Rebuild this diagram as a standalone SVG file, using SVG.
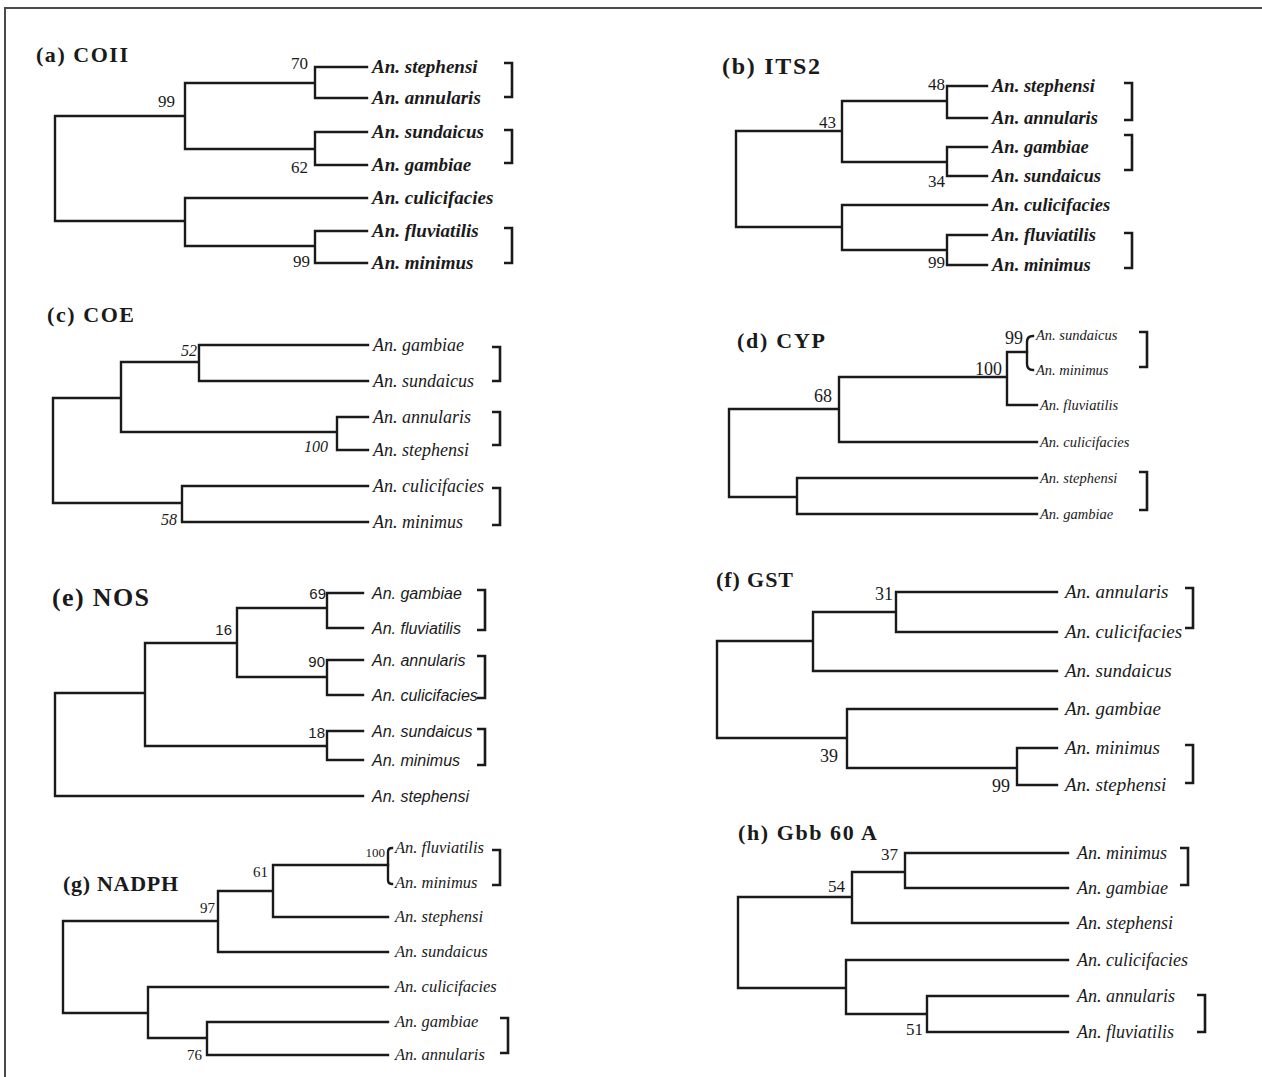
<svg xmlns="http://www.w3.org/2000/svg" width="1262" height="1077" viewBox="0 0 1262 1077">
<style>
  .frame { fill: none; stroke: #4a4a4a; stroke-width: 2; }
  .br { fill: none; stroke: #1a1a1a; stroke-width: 2.4; stroke-linecap: square; }
  .brk { fill: none; stroke: #1a1a1a; stroke-width: 2.6; }
  .title { font-family: "Liberation Serif", serif; font-weight: bold; fill: #1a1a1a; }
  .sp { font-family: "Liberation Serif", serif; fill: #1a1a1a; text-anchor: end; }
  .tx { font-family: "Liberation Serif", serif; font-style: italic; fill: #1a1a1a; }
  .a .tx, .b .tx { font-weight: bold; }
  .e .tx, .e .sp { font-family: "Liberation Sans", sans-serif; }
</style>

<!-- outer frame: top and left rules -->
<path class="frame" d="M5 1077 V8 H1262"/>

<!-- (a) COII -->
<g id="panel-a" class="a">
  <g id="a-title"><text class="title" x="36" y="62" font-size="22" textLength="92">(a) COII</text></g>
  <g id="a-edges">
    <path class="br" d="M185 116 H55 V221 H185 M315 83 H185 V149 H315 M367 67 H315 V98 H367 M367 132 H315 V165 H367 M367 198 H185 V246 H315 M367 231 H315 V263 H367"/>
    <path class="brk" d="M504 63 H512 V97 H504 M504 130 H512 V163 H504 M504 228 H512 V263 H504"/>
  </g>
  <g id="a-support" font-size="17">
    <text class="sp" x="308" y="69">70</text>
    <text class="sp" x="175" y="107">99</text>
    <text class="sp" x="308" y="173">62</text>
    <text class="sp" x="310" y="267">99</text>
  </g>
  <g id="a-stephensi"><text class="tx" x="372" y="73" font-size="19">An. stephensi</text></g>
  <g id="a-annularis"><text class="tx" x="372" y="104" font-size="19">An. annularis</text></g>
  <g id="a-sundaicus"><text class="tx" x="372" y="138" font-size="19">An. sundaicus</text></g>
  <g id="a-gambiae"><text class="tx" x="372" y="171" font-size="19">An. gambiae</text></g>
  <g id="a-culicifacies"><text class="tx" x="372" y="204" font-size="19">An. culicifacies</text></g>
  <g id="a-fluviatilis"><text class="tx" x="372" y="237" font-size="19">An. fluviatilis</text></g>
  <g id="a-minimus"><text class="tx" x="372" y="269" font-size="19">An. minimus</text></g>
</g>

<!-- (b) ITS2 -->
<g id="panel-b" class="b">
  <g id="b-title"><text class="title" x="722" y="74" font-size="24" textLength="98">(b) ITS2</text></g>
  <g id="b-edges">
    <path class="br" d="M842 131 H736 V227 H842 M947 101 H842 V162 H947 M987 86 H947 V118 H987 M987 147 H947 V176 H987 M987 205 H842 V250 H947 M987 235 H947 V265 H987"/>
    <path class="brk" d="M1124 83 H1132 V120 H1124 M1124 135 H1132 V170 H1124 M1124 233 H1132 V268 H1124"/>
  </g>
  <g id="b-support" font-size="17">
    <text class="sp" x="945" y="90">48</text>
    <text class="sp" x="836" y="128">43</text>
    <text class="sp" x="945" y="187">34</text>
    <text class="sp" x="945" y="268">99</text>
  </g>
  <g id="b-stephensi"><text class="tx" x="992" y="92" font-size="18.5">An. stephensi</text></g>
  <g id="b-annularis"><text class="tx" x="992" y="124" font-size="18.5">An. annularis</text></g>
  <g id="b-gambiae"><text class="tx" x="992" y="153" font-size="18.5">An. gambiae</text></g>
  <g id="b-sundaicus"><text class="tx" x="992" y="182" font-size="18.5">An. sundaicus</text></g>
  <g id="b-culicifacies"><text class="tx" x="992" y="211" font-size="18.5">An. culicifacies</text></g>
  <g id="b-fluviatilis"><text class="tx" x="992" y="241" font-size="18.5">An. fluviatilis</text></g>
  <g id="b-minimus"><text class="tx" x="992" y="271" font-size="18.5">An. minimus</text></g>
</g>

<!-- (c) COE -->
<g id="panel-c" class="c">
  <g id="c-title"><text class="title" x="47" y="322" font-size="22" textLength="87">(c) COE</text></g>
  <g id="c-edges">
    <path class="br" d="M121 398 H53 V503 H182 M199 362 H121 V432 H337 M368 345 H199 V381 H368 M368 417 H337 V450 H368 M368 486 H182 V522 H368"/>
    <path class="brk" d="M492 347 H500 V381 H492 M492 412 H500 V445 H492 M492 488 H500 V525 H492"/>
  </g>
  <g id="c-support" font-size="16" font-style="italic">
    <text class="sp" x="197" y="356">52</text>
    <text class="sp" x="328" y="452">100</text>
    <text class="sp" x="177" y="525">58</text>
  </g>
  <g id="c-gambiae"><text class="tx" x="373" y="351" font-size="18">An. gambiae</text></g>
  <g id="c-sundaicus"><text class="tx" x="373" y="387" font-size="18">An. sundaicus</text></g>
  <g id="c-annularis"><text class="tx" x="373" y="423" font-size="18">An. annularis</text></g>
  <g id="c-stephensi"><text class="tx" x="373" y="456" font-size="18">An. stephensi</text></g>
  <g id="c-culicifacies"><text class="tx" x="373" y="492" font-size="18">An. culicifacies</text></g>
  <g id="c-minimus"><text class="tx" x="373" y="528" font-size="18">An. minimus</text></g>
</g>

<!-- (d) CYP -->
<g id="panel-d" class="d">
  <g id="d-title"><text class="title" x="737" y="348" font-size="22" textLength="88">(d) CYP</text></g>
  <g id="d-edges">
    <path class="br" d="M839 409 H729 V497 H797 M1007 377 H839 V442 H1037 M1027 352 H1007 V405 H1037 M797 478 V514 H1037 M797 478 H1037"/>
    <path class="br" stroke-width="2" d="M1033 336 Q1027 336 1027 342 V364 Q1027 370 1033 370"/>
    <path class="brk" d="M1139 332 H1147 V367 H1139 M1139 472 H1147 V510 H1139"/>
  </g>
  <g id="d-support" font-size="18">
    <text class="sp" x="832" y="402">68</text>
    <text class="sp" x="1002" y="375">100</text>
    <text class="sp" x="1023" y="344">99</text>
  </g>
  <g id="d-sundaicus"><text class="tx" x="1036" y="340" font-size="14.5">An. sundaicus</text></g>
  <g id="d-minimus"><text class="tx" x="1036" y="375" font-size="14.5">An. minimus</text></g>
  <g id="d-fluviatilis"><text class="tx" x="1040" y="410" font-size="14.5">An. fluviatilis</text></g>
  <g id="d-culicifacies"><text class="tx" x="1040" y="447" font-size="14.5">An. culicifacies</text></g>
  <g id="d-stephensi"><text class="tx" x="1040" y="483" font-size="14.5">An. stephensi</text></g>
  <g id="d-gambiae"><text class="tx" x="1040" y="519" font-size="14.5">An. gambiae</text></g>
</g>

<!-- (e) NOS -->
<g id="panel-e" class="e">
  <g id="e-title"><text class="title" x="52" y="606" font-size="26" textLength="97">(e) NOS</text></g>
  <g id="e-edges">
    <path class="br" d="M145 693 H55 V796 H363 M237 643 H145 V746 H327 M327 608 H237 V677 H327 M363 593 H327 V628 H363 M363 660 H327 V695 H363 M363 731 H327 V760 H363"/>
    <path class="brk" d="M477 590 H485 V630 H477 M477 656 H485 V698 H477 M477 729 H485 V765 H477"/>
  </g>
  <g id="e-support" font-size="15">
    <text class="sp" x="326" y="599">69</text>
    <text class="sp" x="232" y="635">16</text>
    <text class="sp" x="325" y="667">90</text>
    <text class="sp" x="325" y="738">18</text>
  </g>
  <g id="e-gambiae"><text class="tx" x="372" y="599" font-size="16">An. gambiae</text></g>
  <g id="e-fluviatilis"><text class="tx" x="372" y="634" font-size="16">An. fluviatilis</text></g>
  <g id="e-annularis"><text class="tx" x="372" y="666" font-size="16">An. annularis</text></g>
  <g id="e-culicifacies"><text class="tx" x="372" y="701" font-size="16">An. culicifacies</text></g>
  <g id="e-sundaicus"><text class="tx" x="372" y="737" font-size="16">An. sundaicus</text></g>
  <g id="e-minimus"><text class="tx" x="372" y="766" font-size="16">An. minimus</text></g>
  <g id="e-stephensi"><text class="tx" x="372" y="802" font-size="16">An. stephensi</text></g>
</g>

<!-- (f) GST -->
<g id="panel-f" class="f">
  <g id="f-title"><text class="title" x="716" y="587" font-size="22" textLength="77">(f) GST</text></g>
  <g id="f-edges">
    <path class="br" d="M813 641 H717 V738 H847 M896 612 H813 V671 H1057 M1057 592 H896 V632 H1057 M1057 709 H847 V768 H1017 M1057 748 H1017 V785 H1057"/>
    <path class="brk" d="M1185 588 H1193 V628 H1185 M1185 745 H1193 V783 H1185"/>
  </g>
  <g id="f-support" font-size="18">
    <text class="sp" x="893" y="600">31</text>
    <text class="sp" x="838" y="762">39</text>
    <text class="sp" x="1010" y="792">99</text>
  </g>
  <g id="f-annularis"><text class="tx" x="1065" y="598" font-size="19">An. annularis</text></g>
  <g id="f-culicifacies"><text class="tx" x="1065" y="638" font-size="19">An. culicifacies</text></g>
  <g id="f-sundaicus"><text class="tx" x="1065" y="677" font-size="19">An. sundaicus</text></g>
  <g id="f-gambiae"><text class="tx" x="1065" y="715" font-size="19">An. gambiae</text></g>
  <g id="f-minimus"><text class="tx" x="1065" y="754" font-size="19">An. minimus</text></g>
  <g id="f-stephensi"><text class="tx" x="1065" y="791" font-size="19">An. stephensi</text></g>
</g>

<!-- (g) NADPH -->
<g id="panel-g" class="g">
  <g id="g-title"><text class="title" x="63" y="891" font-size="22" textLength="115">(g) NADPH</text></g>
  <g id="g-edges">
    <path class="br" d="M218 921 H63 V1013 H148 M273 891 H218 V952 H388 M388 865 H273 V917 H388 M388 987 H148 V1038 H207 M388 1022 H207 V1055 H388"/>
    <path class="br" stroke-width="2" d="M392 848 Q388 848 388 852 V880 Q388 884 392 884"/>
    <path class="brk" d="M492 850 H500 V885 H492 M500 1018 H508 V1053 H500"/>
  </g>
  <g id="g-support" font-size="15">
    <text class="sp" x="385" y="857" font-size="13">100</text>
    <text class="sp" x="268" y="877">61</text>
    <text class="sp" x="215" y="913">97</text>
    <text class="sp" x="202" y="1060">76</text>
  </g>
  <g id="g-fluviatilis"><text class="tx" x="395" y="853" font-size="16.5">An. fluviatilis</text></g>
  <g id="g-minimus"><text class="tx" x="395" y="888" font-size="16.5">An. minimus</text></g>
  <g id="g-stephensi"><text class="tx" x="395" y="922" font-size="16.5">An. stephensi</text></g>
  <g id="g-sundaicus"><text class="tx" x="395" y="957" font-size="16.5">An. sundaicus</text></g>
  <g id="g-culicifacies"><text class="tx" x="395" y="992" font-size="16.5">An. culicifacies</text></g>
  <g id="g-gambiae"><text class="tx" x="395" y="1027" font-size="16.5">An. gambiae</text></g>
  <g id="g-annularis"><text class="tx" x="395" y="1060" font-size="16.5">An. annularis</text></g>
</g>

<!-- (h) Gbb 60 A -->
<g id="panel-h" class="h">
  <g id="h-title"><text class="title" x="738" y="840" font-size="22" textLength="139">(h) Gbb 60 A</text></g>
  <g id="h-edges">
    <path class="br" d="M852 897 H738 V988 H846 M905 872 H852 V923 H1068 M1068 853 H905 V888 H1068 M1068 960 H846 V1014 H927 M1068 996 H927 V1032 H1068"/>
    <path class="brk" d="M1180 848 H1188 V885 H1180 M1197 995 H1205 V1032 H1197"/>
  </g>
  <g id="h-support" font-size="17">
    <text class="sp" x="898" y="860">37</text>
    <text class="sp" x="845" y="892">54</text>
    <text class="sp" x="923" y="1035">51</text>
  </g>
  <g id="h-minimus"><text class="tx" x="1077" y="859" font-size="18">An. minimus</text></g>
  <g id="h-gambiae"><text class="tx" x="1077" y="894" font-size="18">An. gambiae</text></g>
  <g id="h-stephensi"><text class="tx" x="1077" y="929" font-size="18">An. stephensi</text></g>
  <g id="h-culicifacies"><text class="tx" x="1077" y="966" font-size="18">An. culicifacies</text></g>
  <g id="h-annularis"><text class="tx" x="1077" y="1002" font-size="18">An. annularis</text></g>
  <g id="h-fluviatilis"><text class="tx" x="1077" y="1038" font-size="18">An. fluviatilis</text></g>
</g>
</svg>
